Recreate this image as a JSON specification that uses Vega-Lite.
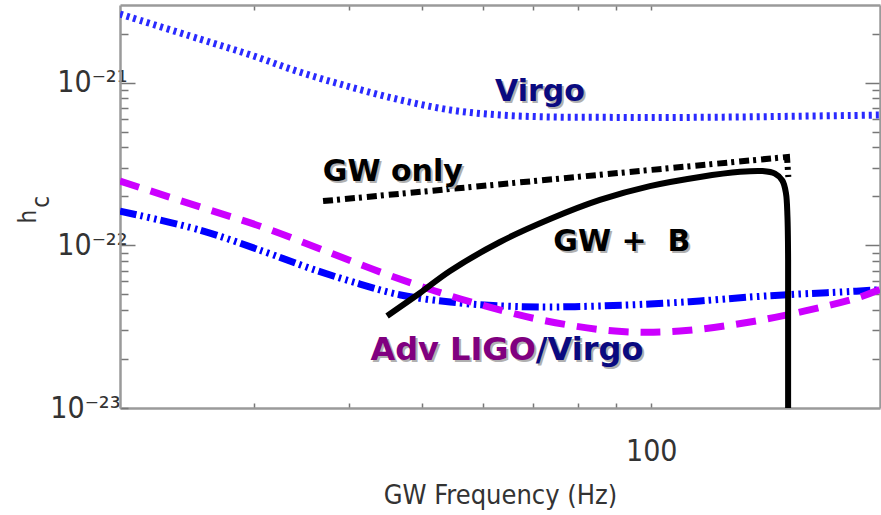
{
  "$schema": "https://vega.github.io/schema/vega-lite/v6.json",
  "autosize": "none",
  "width": 760,
  "height": 403,
  "padding": {"left": 120, "top": 5, "right": 1, "bottom": 107},
  "background": "white",
  "config": {
    "view": {"stroke": null},
    "axis": {
      "grid": false,
      "domainColor": "#9a9a9a",
      "domainWidth": 2.5,
      "tickColor": "#777777",
      "tickWidth": 1.5,
      "labelFont": "Liberation Sans Narrow, DejaVu Sans Condensed, Liberation Sans",
      "labelColor": "#333333",
      "labelFontSize": 30,
      "titleFont": "Liberation Sans Narrow, DejaVu Sans Condensed, Liberation Sans",
      "titleColor": "#333333",
      "titleFontWeight": "normal",
      "labelOverlap": false,
      "labelFlush": false
    }
  },
  "datasets": {
    "curves": [
      {"series": "virgo", "i": 1, "f": 20, "h": 2.64e-21},
      {"series": "virgo", "i": 2, "f": 25.5, "h": 1.85e-21},
      {"series": "virgo", "i": 3, "f": 29.7, "h": 1.48e-21},
      {"series": "virgo", "i": 4, "f": 34.5, "h": 1.16e-21},
      {"series": "virgo", "i": 5, "f": 40.2, "h": 9.4e-22},
      {"series": "virgo", "i": 6, "f": 46.8, "h": 7.82e-22},
      {"series": "virgo", "i": 7, "f": 54.4, "h": 6.79e-22},
      {"series": "virgo", "i": 8, "f": 63.3, "h": 6.32e-22},
      {"series": "virgo", "i": 9, "f": 73.6, "h": 6.15e-22},
      {"series": "virgo", "i": 10, "f": 85.7, "h": 6.12e-22},
      {"series": "virgo", "i": 11, "f": 99.6, "h": 6.1e-22},
      {"series": "virgo", "i": 12, "f": 115.9, "h": 6.12e-22},
      {"series": "virgo", "i": 13, "f": 134.9, "h": 6.16e-22},
      {"series": "virgo", "i": 14, "f": 157, "h": 6.22e-22},
      {"series": "virgo", "i": 15, "f": 182.8, "h": 6.28e-22},
      {"series": "virgo", "i": 16, "f": 200, "h": 6.32e-22},

      {"series": "advvirgo", "i": 1, "f": 20, "h": 1.62e-22},
      {"series": "advvirgo", "i": 2, "f": 25.5, "h": 1.24e-22},
      {"series": "advvirgo", "i": 3, "f": 31.03, "h": 9.1e-23},
      {"series": "advvirgo", "i": 4, "f": 36.11, "h": 7.05e-23},
      {"series": "advvirgo", "i": 5, "f": 41.38, "h": 5.78e-23},
      {"series": "advvirgo", "i": 6, "f": 46.8, "h": 4.95e-23},
      {"series": "advvirgo", "i": 7, "f": 54.4, "h": 4.48e-23},
      {"series": "advvirgo", "i": 8, "f": 63.3, "h": 4.24e-23},
      {"series": "advvirgo", "i": 9, "f": 73.6, "h": 4.18e-23},
      {"series": "advvirgo", "i": 10, "f": 85.7, "h": 4.24e-23},
      {"series": "advvirgo", "i": 11, "f": 99.6, "h": 4.36e-23},
      {"series": "advvirgo", "i": 12, "f": 115.9, "h": 4.55e-23},
      {"series": "advvirgo", "i": 13, "f": 134.9, "h": 4.81e-23},
      {"series": "advvirgo", "i": 14, "f": 157, "h": 5.02e-23},
      {"series": "advvirgo", "i": 15, "f": 177.2, "h": 5.16e-23},
      {"series": "advvirgo", "i": 16, "f": 200, "h": 5.33e-23},

      {"series": "advligo", "i": 1, "f": 20, "h": 2.48e-22},
      {"series": "advligo", "i": 2, "f": 25.5, "h": 1.72e-22},
      {"series": "advligo", "i": 3, "f": 31.03, "h": 1.28e-22},
      {"series": "advligo", "i": 4, "f": 37.56, "h": 9.1e-23},
      {"series": "advligo", "i": 5, "f": 44.38, "h": 6.75e-23},
      {"series": "advligo", "i": 6, "f": 51.95, "h": 5.24e-23},
      {"series": "advligo", "i": 7, "f": 60.43, "h": 4.24e-23},
      {"series": "advligo", "i": 8, "f": 71.83, "h": 3.47e-23},
      {"series": "advligo", "i": 9, "f": 89.6, "h": 2.97e-23},
      {"series": "advligo", "i": 10, "f": 109.1, "h": 2.97e-23},
      {"series": "advligo", "i": 11, "f": 134.9, "h": 3.38e-23},
      {"series": "advligo", "i": 12, "f": 159.4, "h": 3.95e-23},
      {"series": "advligo", "i": 13, "f": 188.2, "h": 4.81e-23},
      {"series": "advligo", "i": 14, "f": 200, "h": 5.35e-23},

      {"series": "gwonly", "i": 1, "f": 37.0, "h": 1.87e-22},
      {"series": "gwonly", "i": 2, "f": 150.9, "h": 3.49e-22},
      {"series": "gwonly", "i": 3, "f": 151.5, "h": 2.63e-22},

      {"series": "gwb", "i": 1, "f": 44.92, "h": 3.68e-23},
      {"series": "gwb", "i": 2, "f": 49.63, "h": 5.09e-23},
      {"series": "gwb", "i": 3, "f": 54.36, "h": 6.95e-23},
      {"series": "gwb", "i": 4, "f": 63.24, "h": 1.048e-22},
      {"series": "gwb", "i": 5, "f": 73.6, "h": 1.45e-22},
      {"series": "gwb", "i": 6, "f": 85.6, "h": 1.9e-22},
      {"series": "gwb", "i": 7, "f": 99.6, "h": 2.31e-22},
      {"series": "gwb", "i": 8, "f": 115.9, "h": 2.63e-22},
      {"series": "gwb", "i": 9, "f": 130.9, "h": 2.83e-22},
      {"series": "gwb", "i": 10, "f": 140.0, "h": 2.86e-22},
      {"series": "gwb", "i": 11, "f": 145.5, "h": 2.76e-22},
      {"series": "gwb", "i": 12, "f": 148.8, "h": 2.5e-22},
      {"series": "gwb", "i": 13, "f": 150.4, "h": 2.1e-22},
      {"series": "gwb", "i": 14, "f": 151.1, "h": 1.5e-22},
      {"series": "gwb", "i": 15, "f": 151.4, "h": 8.12e-23},
      {"series": "gwb", "i": 16, "f": 151.4, "h": 3.02e-23},
      {"series": "gwb", "i": 17, "f": 151.4, "h": 8e-24}
    ],
    "labels": [
      {"text": "Virgo", "f": 71.4, "h": 8.75e-22, "kind": "navy"},
      {"text": "GW only", "f": 45.7, "h": 2.82e-22, "kind": "black"},
      {"text": "GW +\u00a0\u00a0B", "f": 91.5, "h": 1.05e-22, "kind": "black"}
    ],
    "advl": [
      {"text": "Adv LIGO", "f": 70.5, "h": 2.27e-23, "kind": "purple"}
    ],
    "advv": [
      {"text": "/Virgo", "f": 70.5, "h": 2.27e-23, "kind": "navy"}
    ]
  },
  "encoding": {
    "x": {"field": "f", "type": "quantitative", "scale": {"type": "log", "domain": [20, 200], "nice": false}, "axis": null},
    "y": {"field": "h", "type": "quantitative", "scale": {"type": "log", "domain": [1e-23, 3e-21], "nice": false}, "axis": null}
  },
  "resolve": {"axis": {"x": "independent", "y": "independent"}},
  "layer": [
    {
      "data": {"name": "curves"},
      "transform": [{"filter": "datum.series == 'virgo'"}],
      "mark": {"type": "line", "color": "#2a2aff", "strokeWidth": 7, "strokeDash": [3, 4], "interpolate": "catmull-rom", "clip": true},
      "encoding": {
        "order": {"field": "i", "type": "quantitative"},
        "x": {
          "field": "f", "type": "quantitative",
          "scale": {"type": "log", "domain": [20, 200], "nice": false},
          "axis": {
            "orient": "bottom",
            "values": [30, 40, 50, 60, 70, 80, 90, 100],
            "labelExpr": "datum.value == 100 ? '100' : ''",
            "tickSize": -5,
            "labelPadding": 48,
            "labelBaseline": "middle",
            "title": "GW Frequency (Hz)",
            "titleFontSize": 27,
            "titleX": 380,
            "titleY": 95,
            "titleBaseline": "alphabetic"
          }
        },
        "y": {
          "field": "h", "type": "quantitative",
          "scale": {"type": "log", "domain": [1e-23, 3e-21], "nice": false},
          "axis": {
            "orient": "left",
            "values": [2e-21, 1e-21, 9e-22, 8e-22, 7e-22, 6e-22, 5e-22, 4e-22, 3e-22, 2e-22, 1e-22, 9e-23, 8e-23, 7e-23, 6e-23, 5e-23, 4e-23, 3e-23, 2e-23, 1e-23],
            "labelExpr": "datum.value > 9.9e-22 && datum.value < 1.01e-21 ? '10\u207b\u00b2\u00b9' : (datum.value > 9.9e-23 && datum.value < 1.01e-22 ? '10\u207b\u00b2\u00b2' : (datum.value > 9.9e-24 && datum.value < 1.01e-23 ? '10\u207b\u00b2\u00b3' : ''))",
            "tickSize": {"condition": {"test": "(datum.value > 9.9e-22 && datum.value < 1.01e-21) || (datum.value > 9.9e-23 && datum.value < 1.01e-22)", "value": -15}, "value": -8},
            "labelPadding": 8,
            "labelBaseline": "middle",
            "title": ["h", "\u2800c"],
            "titleFontSize": 24,
            "titleAngle": -90,
            "titleAlign": "left",
            "titleBaseline": "top",
            "titleLineHeight": 13,
            "titleX": -104,
            "titleY": 218
          }
        }
      }
    },
    {
      "data": {"name": "curves"},
      "transform": [{"filter": "datum.series == 'advvirgo'"}],
      "mark": {"type": "line", "color": "#0000ff", "strokeWidth": 7, "strokeDash": [17, 4, 2.5, 4.5, 2.5, 4.5, 2.5, 4], "interpolate": "catmull-rom", "clip": true},
      "encoding": {
        "order": {"field": "i", "type": "quantitative"},
        "x": {
          "field": "f", "type": "quantitative",
          "scale": {"type": "log", "domain": [20, 200], "nice": false},
          "axis": {"orient": "top", "values": [30, 40, 50, 60, 70, 80, 90, 100], "labels": false, "tickSize": -5, "title": null}
        },
        "y": {
          "field": "h", "type": "quantitative",
          "scale": {"type": "log", "domain": [1e-23, 3e-21], "nice": false},
          "axis": {
            "orient": "right",
            "values": [2e-21, 1e-21, 9e-22, 8e-22, 7e-22, 6e-22, 5e-22, 4e-22, 3e-22, 2e-22, 1e-22, 9e-23, 8e-23, 7e-23, 6e-23, 5e-23, 4e-23, 3e-23, 2e-23],
            "labels": false,
            "tickSize": {"condition": {"test": "(datum.value > 9.9e-22 && datum.value < 1.01e-21) || (datum.value > 9.9e-23 && datum.value < 1.01e-22)", "value": -15}, "value": -8},
            "title": null
          }
        }
      }
    },
    {
      "data": {"name": "curves"},
      "transform": [{"filter": "datum.series == 'advligo'"}],
      "mark": {"type": "line", "color": "#cc00ff", "strokeWidth": 7, "strokeDash": [20, 12], "interpolate": "catmull-rom", "clip": true},
      "encoding": {"order": {"field": "i", "type": "quantitative"}}
    },
    {
      "data": {"name": "curves"},
      "transform": [{"filter": "datum.series == 'gwonly'"}],
      "mark": {"type": "line", "color": "#000000", "strokeWidth": 6, "strokeDash": [10, 4, 3, 5], "clip": true},
      "encoding": {"order": {"field": "i", "type": "quantitative"}}
    },
    {
      "data": {"name": "curves"},
      "transform": [{"filter": "datum.series == 'gwb'"}],
      "mark": {"type": "line", "color": "#000000", "strokeWidth": 6, "interpolate": "catmull-rom", "clip": true},
      "encoding": {"order": {"field": "i", "type": "quantitative"}}
    },
    {
      "data": {"name": "labels"},
      "mark": {"type": "text", "font": "DejaVu Sans", "fontWeight": "bold", "fontSize": 30, "align": "center", "baseline": "middle", "dx": 2, "dy": 2, "color": "#b0b0b0"},
      "encoding": {"text": {"field": "text"}}
    },
    {
      "data": {"name": "labels"},
      "mark": {"type": "text", "font": "DejaVu Sans", "fontWeight": "bold", "fontSize": 30, "align": "center", "baseline": "middle"},
      "encoding": {
        "text": {"field": "text"},
        "color": {"field": "kind", "type": "nominal", "scale": {"domain": ["navy", "black", "purple"], "range": ["#0a0a80", "#000000", "#800080"]}, "legend": null}
      }
    },
    {
      "data": {"name": "advl"},
      "mark": {"type": "text", "font": "DejaVu Sans", "fontWeight": "bold", "fontSize": 32, "align": "right", "baseline": "middle", "dx": 2, "dy": 2, "color": "#b0b0b0"},
      "encoding": {"text": {"field": "text"}}
    },
    {
      "data": {"name": "advl"},
      "mark": {"type": "text", "font": "DejaVu Sans", "fontWeight": "bold", "fontSize": 32, "align": "right", "baseline": "middle", "color": "#800080"},
      "encoding": {"text": {"field": "text"}}
    },
    {
      "data": {"name": "advv"},
      "mark": {"type": "text", "font": "DejaVu Sans", "fontWeight": "bold", "fontSize": 32, "align": "left", "baseline": "middle", "dx": 2, "dy": 2, "color": "#b0b0b0"},
      "encoding": {"text": {"field": "text"}}
    },
    {
      "data": {"name": "advv"},
      "mark": {"type": "text", "font": "DejaVu Sans", "fontWeight": "bold", "fontSize": 32, "align": "left", "baseline": "middle", "color": "#0a0a80"},
      "encoding": {"text": {"field": "text"}}
    }
  ]
}
